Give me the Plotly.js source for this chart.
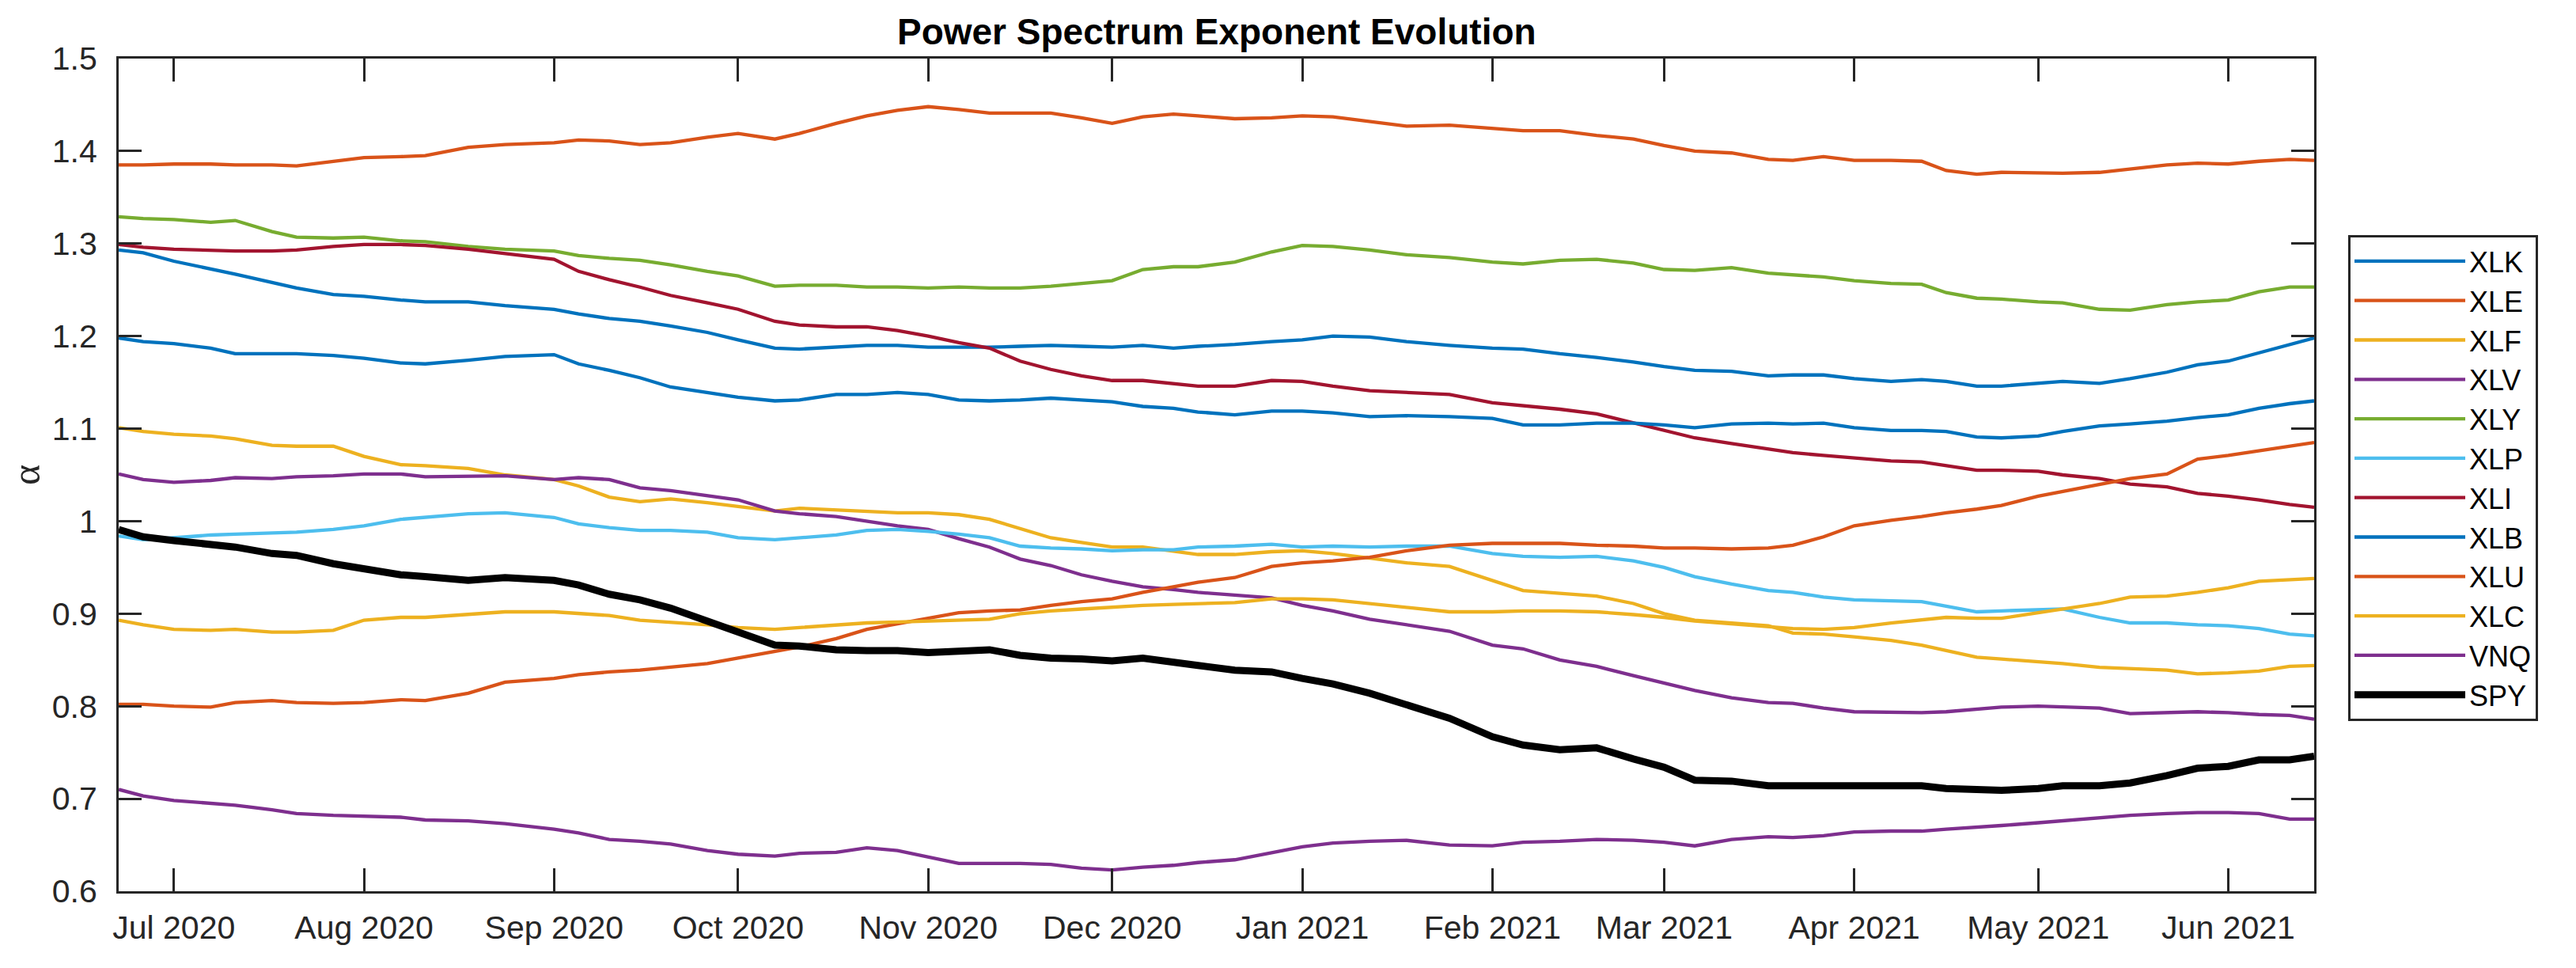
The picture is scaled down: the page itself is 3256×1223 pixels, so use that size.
<!DOCTYPE html>
<html>
<head>
<meta charset="utf-8">
<script src="https://cdn.plot.ly/plotly-3.0.1.min.js"></script>
<style>
  html, body { margin: 0; padding: 0; background: #ffffff; }
  #chart { width: 3256px; height: 1223px; }
</style>
</head>
<body>
<div id="chart"></div>
<script>
// ---- data ----
const dates = [
  '2020-06-22','2020-06-26','2020-07-01','2020-07-07','2020-07-11','2020-07-17','2020-07-21','2020-07-27','2020-08-01','2020-08-07','2020-08-11','2020-08-18','2020-08-24','2020-09-01','2020-09-05','2020-09-10','2020-09-15',
  '2020-09-20','2020-09-26','2020-10-01','2020-10-07','2020-10-11','2020-10-17','2020-10-22','2020-10-27','2020-11-01','2020-11-06','2020-11-11','2020-11-16','2020-11-21','2020-11-26','2020-12-01','2020-12-06','2020-12-11','2020-12-15',
  '2020-12-21','2020-12-27','2021-01-01','2021-01-06','2021-01-12','2021-01-18','2021-01-25','2021-02-01','2021-02-06','2021-02-12','2021-02-18','2021-02-24','2021-03-01','2021-03-06','2021-03-12','2021-03-18',
  '2021-03-22','2021-03-27','2021-04-01','2021-04-07','2021-04-12','2021-04-16','2021-04-21','2021-04-25','2021-05-01','2021-05-05','2021-05-11','2021-05-16','2021-05-22','2021-05-27','2021-06-01','2021-06-06','2021-06-11','2021-06-15'
];

const XLK = [1.293,1.290,1.281,1.273,1.267,1.258,1.252,1.245,1.243,1.239,1.237,1.237,1.233,1.229,1.224,1.219,1.216,
  1.211,1.204,1.196,1.187,1.186,1.188,1.190,1.190,1.188,1.188,1.188,1.189,1.190,1.189,1.188,1.190,1.187,1.189,
  1.191,1.194,1.196,1.200,1.199,1.194,1.190,1.187,1.186,1.181,1.177,1.172,1.167,1.163,1.162,1.157,
  1.158,1.158,1.154,1.151,1.153,1.151,1.146,1.146,1.149,1.151,1.149,1.154,1.161,1.169,1.173,1.182,1.191,1.198];

const XLE = [1.385,1.385,1.386,1.386,1.385,1.385,1.384,1.389,1.393,1.394,1.395,1.404,1.407,1.409,1.412,1.411,1.407,
  1.409,1.415,1.419,1.413,1.419,1.430,1.438,1.444,1.448,1.445,1.441,1.441,1.441,1.436,1.430,1.437,1.440,1.438,
  1.435,1.436,1.438,1.437,1.432,1.427,1.428,1.425,1.422,1.422,1.417,1.413,1.406,1.400,1.398,1.391,
  1.390,1.394,1.390,1.390,1.389,1.379,1.375,1.377,1.376,1.376,1.377,1.381,1.385,1.387,1.386,1.389,1.391,1.390];

const XLF = [1.101,1.097,1.094,1.092,1.089,1.082,1.081,1.081,1.070,1.061,1.060,1.057,1.050,1.045,1.038,1.026,1.021,
  1.024,1.020,1.016,1.011,1.014,1.012,1.011,1.009,1.009,1.007,1.002,0.992,0.982,0.977,0.972,0.972,0.968,0.964,
  0.964,0.967,0.968,0.965,0.960,0.955,0.951,0.936,0.925,0.922,0.919,0.911,0.900,0.893,0.890,0.887,
  0.879,0.878,0.875,0.871,0.866,0.860,0.853,0.851,0.848,0.846,0.842,0.841,0.839,0.835,0.836,0.838,0.843,0.844];

const XLV = [1.051,1.045,1.042,1.044,1.047,1.046,1.048,1.049,1.051,1.051,1.048,1.049,1.049,1.045,1.047,1.045,1.036,
  1.033,1.028,1.023,1.011,1.008,1.005,1.000,0.995,0.991,0.981,0.972,0.959,0.952,0.942,0.935,0.929,0.926,0.923,
  0.920,0.917,0.909,0.903,0.894,0.888,0.881,0.866,0.862,0.850,0.843,0.833,0.825,0.817,0.809,0.804,
  0.803,0.798,0.794,0.793,0.793,0.794,0.797,0.799,0.800,0.799,0.798,0.792,0.793,0.794,0.793,0.791,0.790,0.786];

const XLY = [1.329,1.327,1.326,1.323,1.325,1.313,1.307,1.306,1.307,1.303,1.302,1.297,1.294,1.292,1.287,1.284,1.282,
  1.277,1.270,1.265,1.254,1.255,1.255,1.253,1.253,1.252,1.253,1.252,1.252,1.254,1.257,1.260,1.272,1.275,1.275,
  1.280,1.291,1.298,1.297,1.293,1.288,1.285,1.280,1.278,1.282,1.283,1.279,1.272,1.271,1.274,1.268,
  1.266,1.264,1.260,1.257,1.256,1.247,1.241,1.240,1.237,1.236,1.229,1.228,1.234,1.237,1.239,1.248,1.253,1.253];

const XLP = [0.984,0.980,0.982,0.985,0.986,0.987,0.988,0.991,0.995,1.002,1.004,1.008,1.009,1.004,0.997,0.993,0.990,
  0.990,0.988,0.982,0.980,0.982,0.985,0.990,0.991,0.989,0.986,0.982,0.973,0.971,0.970,0.968,0.969,0.969,0.972,
  0.973,0.975,0.972,0.973,0.972,0.973,0.973,0.965,0.962,0.961,0.962,0.957,0.950,0.940,0.932,0.925,
  0.923,0.918,0.915,0.914,0.913,0.908,0.902,0.903,0.904,0.905,0.896,0.890,0.890,0.888,0.887,0.884,0.878,0.876];

const XLI = [1.299,1.296,1.294,1.293,1.292,1.292,1.293,1.297,1.299,1.299,1.298,1.294,1.289,1.283,1.270,1.261,1.253,
  1.244,1.236,1.229,1.216,1.212,1.210,1.210,1.206,1.200,1.193,1.187,1.173,1.164,1.157,1.152,1.152,1.149,1.146,
  1.146,1.152,1.151,1.146,1.141,1.139,1.137,1.128,1.125,1.121,1.116,1.106,1.098,1.090,1.084,1.078,
  1.074,1.071,1.068,1.065,1.064,1.060,1.055,1.055,1.054,1.050,1.046,1.040,1.037,1.030,1.027,1.023,1.018,1.015];

const XLB = [1.198,1.194,1.192,1.187,1.181,1.181,1.181,1.179,1.176,1.171,1.170,1.174,1.178,1.180,1.170,1.163,1.155,
  1.145,1.139,1.134,1.130,1.131,1.137,1.137,1.139,1.137,1.131,1.130,1.131,1.133,1.131,1.129,1.124,1.122,1.118,
  1.115,1.119,1.119,1.117,1.113,1.114,1.113,1.111,1.104,1.104,1.106,1.106,1.104,1.101,1.105,1.106,
  1.105,1.106,1.101,1.098,1.098,1.097,1.091,1.090,1.092,1.097,1.103,1.105,1.108,1.112,1.115,1.122,1.127,1.130];

const XLU = [0.802,0.802,0.800,0.799,0.804,0.806,0.804,0.803,0.804,0.807,0.806,0.814,0.826,0.830,0.834,0.837,0.839,
  0.842,0.846,0.852,0.859,0.864,0.873,0.883,0.889,0.895,0.901,0.903,0.904,0.909,0.913,0.916,0.923,0.929,0.934,
  0.939,0.951,0.955,0.957,0.961,0.968,0.974,0.976,0.976,0.976,0.974,0.973,0.971,0.971,0.970,0.971,
  0.974,0.983,0.995,1.001,1.005,1.009,1.013,1.017,1.027,1.032,1.039,1.046,1.051,1.067,1.071,1.076,1.081,1.085];

const XLC = [0.893,0.888,0.883,0.882,0.883,0.880,0.880,0.882,0.893,0.896,0.896,0.899,0.902,0.902,0.900,0.898,0.893,
  0.891,0.888,0.885,0.883,0.885,0.888,0.890,0.891,0.892,0.893,0.894,0.900,0.903,0.905,0.907,0.909,0.910,0.911,
  0.912,0.916,0.916,0.915,0.911,0.907,0.902,0.902,0.903,0.903,0.902,0.899,0.896,0.892,0.889,0.886,
  0.884,0.883,0.885,0.890,0.893,0.896,0.895,0.895,0.901,0.905,0.911,0.918,0.919,0.923,0.928,0.935,0.937,0.938];

const VNQ = [0.710,0.703,0.698,0.695,0.693,0.688,0.684,0.682,0.681,0.680,0.677,0.676,0.673,0.667,0.663,0.656,0.654,
  0.651,0.644,0.640,0.638,0.641,0.642,0.647,0.644,0.637,0.630,0.630,0.630,0.629,0.625,0.623,0.626,0.628,0.631,
  0.634,0.642,0.648,0.652,0.654,0.655,0.650,0.649,0.653,0.654,0.656,0.655,0.653,0.649,0.656,0.659,
  0.658,0.660,0.664,0.665,0.665,0.667,0.669,0.671,0.674,0.676,0.679,0.682,0.684,0.685,0.685,0.684,0.678,0.678];

const SPY = [0.991,0.983,0.979,0.974,0.972,0.965,0.963,0.954,0.949,0.942,0.940,0.936,0.939,0.936,0.931,0.921,0.915,
  0.906,0.892,0.880,0.866,0.865,0.861,0.860,0.860,0.858,0.859,0.861,0.855,0.852,0.851,0.849,0.852,0.847,0.844,
  0.839,0.837,0.830,0.824,0.814,0.802,0.787,0.767,0.758,0.753,0.755,0.743,0.734,0.720,0.719,0.714,
  0.714,0.714,0.713,0.713,0.714,0.711,0.709,0.709,0.711,0.714,0.714,0.717,0.725,0.733,0.735,0.742,0.742,0.746];

const seriesNames = ['XLK','XLE','XLF','XLV','XLY','XLP','XLI','XLB','XLU','XLC','VNQ','SPY'];
const seriesValues = [XLK, XLE, XLF, XLV, XLY, XLP, XLI, XLB, XLU, XLC, VNQ, SPY];
const seriesColors = ['#0072BD','#D95319','#EDB120','#7E2F8E','#77AC30','#4DBEEE','#A2142F',
                      '#0072BD','#D95319','#EDB120','#7E2F8E','#000000'];
const seriesWidths = [4.3,4.3,4.3,4.3,4.3,4.3,4.3,4.3,4.3,4.3,4.3,9];

const yTicks = [0.6,0.7,0.8,0.9,1,1.1,1.2,1.3,1.4,1.5];
const yTickLabels = ['0.6','0.7','0.8','0.9','1','1.1','1.2','1.3','1.4','1.5'];
const xTicks = ['2020-07-01','2020-08-01','2020-09-01','2020-10-01','2020-11-01','2020-12-01',
                '2021-01-01','2021-02-01','2021-03-01','2021-04-01','2021-05-01','2021-06-01'];
const xTickLabels = ['Jul 2020','Aug 2020','Sep 2020','Oct 2020','Nov 2020','Dec 2020',
                     'Jan 2021','Feb 2021','Mar 2021','Apr 2021','May 2021','Jun 2021'];

// ---- build traces ----
const traces = seriesNames.map((name, i) => ({
  type: 'scatter',
  mode: 'lines',
  name: name,
  x: dates,
  y: seriesValues[i],
  line: { color: seriesColors[i], width: seriesWidths[i] },
  hoverinfo: 'skip'
}));

const axisColor = '#262626';
const fontFam = 'Liberation Sans, Arial, Helvetica, sans-serif';

const layout = {
  width: 3256,
  height: 1223,
  paper_bgcolor: '#ffffff',
  plot_bgcolor: '#ffffff',
  margin: { l: 150, r: 331, t: 74, b: 97, pad: 0 },
  font: { family: fontFam, size: 40, color: axisColor },
  title: {
    text: 'Power Spectrum Exponent Evolution',
    font: { family: fontFam, size: 46, color: '#000000', weight: 'bold' },
    x: 0.4723, xanchor: 'center',
    y: 0.967, yanchor: 'middle'
  },
  xaxis: {
    type: 'date',
    range: ['2020-06-22', '2021-06-15'],
    tickmode: 'array',
    tickvals: xTicks,
    ticktext: xTickLabels,
    ticks: 'inside',
    ticklen: 29,
    tickwidth: 3,
    tickcolor: axisColor,
    showline: true,
    linecolor: axisColor,
    linewidth: 3,
    mirror: 'ticks',
    showgrid: false,
    zeroline: false,
    tickfont: { family: fontFam, size: 41, color: axisColor },
    ticklabelstandoff: 8
  },
  yaxis: {
    range: [0.6, 1.5],
    tickmode: 'array',
    tickvals: yTicks,
    ticktext: yTickLabels,
    ticks: 'inside',
    ticklen: 29,
    tickwidth: 3,
    tickcolor: axisColor,
    showline: true,
    linecolor: axisColor,
    linewidth: 3,
    mirror: 'ticks',
    showgrid: false,
    zeroline: false,
    tickfont: { family: fontFam, size: 41, color: axisColor },
    ticklabelstandoff: 16,
    title: {
      text: 'α',
      font: { family: 'Liberation Serif, DejaVu Serif, serif', size: 50, color: axisColor },
      standoff: 0
    }
  },
  showlegend: true,
  legend: {
    x: 1.0155, xanchor: 'left',
    y: 0.788, yanchor: 'top',
    bgcolor: '#ffffff',
    bordercolor: axisColor,
    borderwidth: 3,
    font: { family: fontFam, size: 36, color: '#000000' },
    itemwidth: 140,
    tracegroupgap: 0
  }
};

Plotly.newPlot('chart', traces, layout, { staticPlot: true, displayModeBar: false });
</script>
</body>
</html>
